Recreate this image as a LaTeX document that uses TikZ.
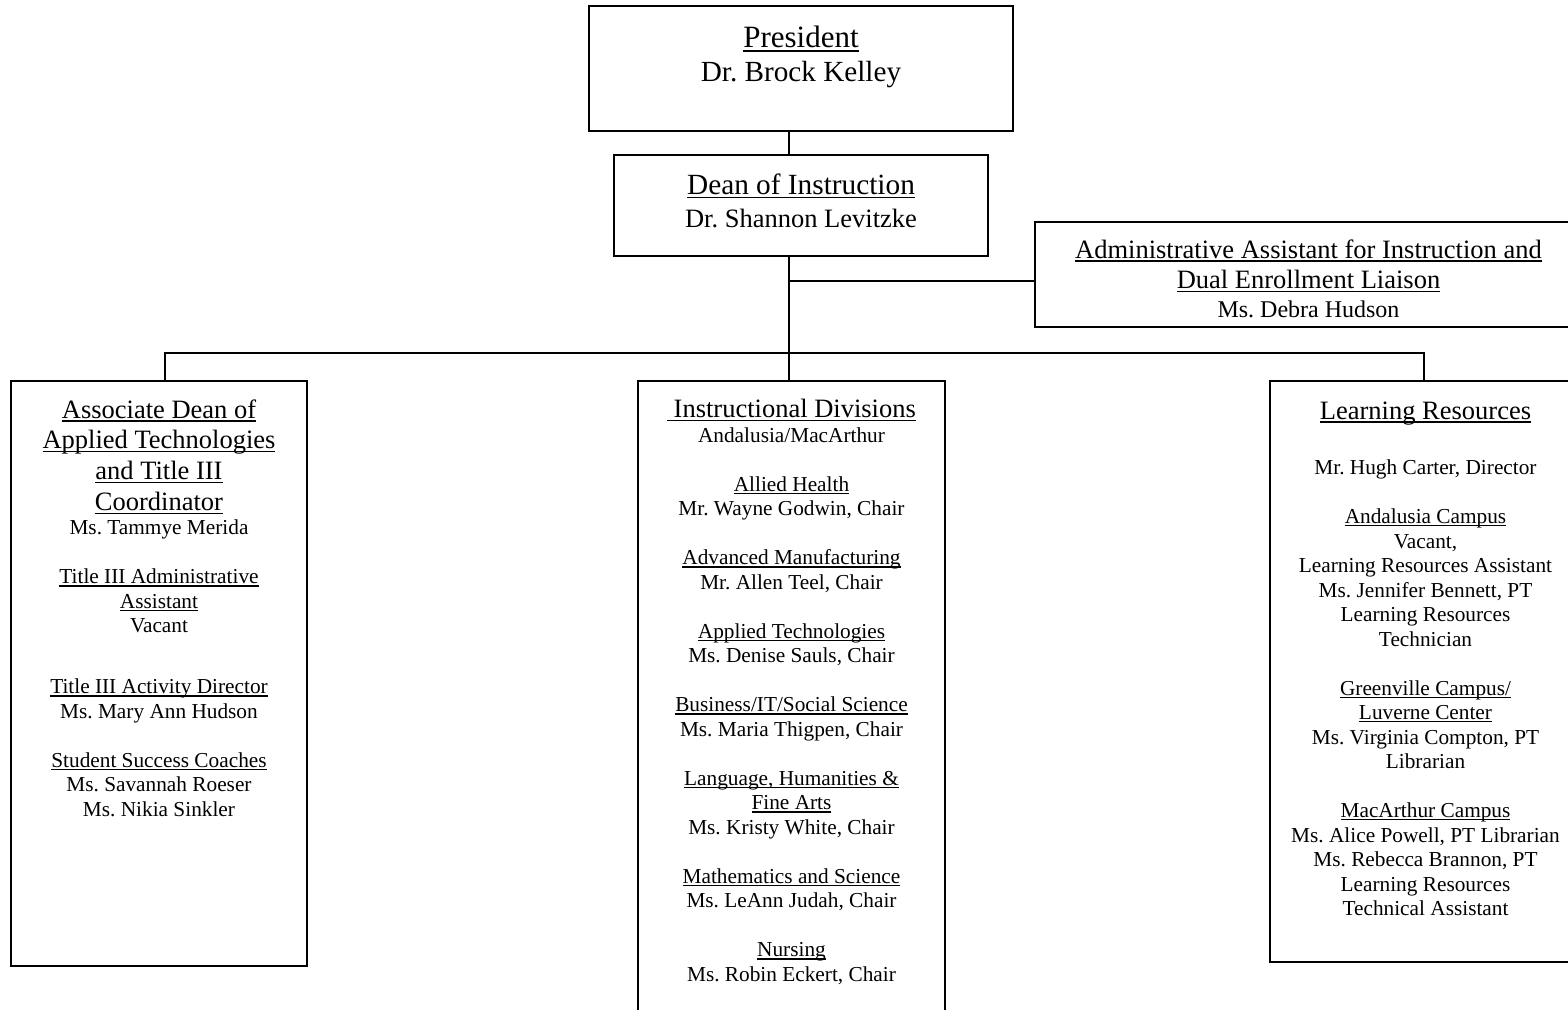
\documentclass[tikz,border=0pt]{standalone}
\usepackage{fontspec}
\setmainfont{Liberation Serif}
\setlength{\parindent}{0pt}
\newcommand{\fsz}[2]{\fontsize{#1}{#2}\selectfont\spaceskip=0.25em\relax\xspaceskip=0.25em\relax}
\newcommand{\tsz}{\fsz{26.5}{30.7}}
\newcommand{\bsz}{\fsz{21.3}{24.5}}
\newcommand{\ocgap}[1]{\par\vskip #1pt}
\newcommand{\myul}[1]{\leavevmode\setbox0\hbox{#1}\rlap{\rule[-0.13em]{\wd0}{1.3pt}}\box0}
\begin{document}
\begin{tikzpicture}[x=1pt,y=-1pt,
  box/.style={draw, line width=1.6pt, inner sep=0pt},
  txt/.style={anchor=north, inner sep=0pt, text width=#1, align=center},
  link/.style={line width=1.6pt}]
\useasboundingbox (0,0) rectangle (1568,1009);
% boxes
\node[box, minimum width=424, minimum height=125] (pres) at (801,68.5) {};
\node[box, minimum width=374, minimum height=101] (dean) at (801,205.5) {};
\node[box, minimum width=547, minimum height=105] (admin) at (1308.5,274.5) {};
\node[box, minimum width=296, minimum height=585] (left) at (159,673.5) {};
\node[box, minimum width=307, minimum height=639] (mid) at (791.5,700.5) {};
\node[box, minimum width=311, minimum height=581] (right) at (1425.5,671.5) {};
% coordinates
\coordinate (trunk) at (789,0);
\coordinate (branch) at (789,281);
\coordinate (busL) at (165,353);
\coordinate (busR) at (1424,353);
% connectors
\draw[link] (pres.south -| trunk) -- (dean.north -| trunk);
\draw[link] (dean.south -| trunk) -- (mid.north -| trunk);
\draw[link] (branch) -- (branch -| admin.west);
\draw[link] (busL |- left.north) -- (busL) -- (busR) -- (busR |- right.north);
% texts
\node[txt=410] (presT) at (801,25.8) {{\fsz{31}{35}\myul{President}\par}\fsz{29.2}{34.4}Dr. Brock Kelley\par};
\node[txt=360] (deanT) at (801,173.5) {{\fsz{29.3}{33}\myul{Dean of Instruction}\par}\fsz{26.5}{33}Dr. Shannon Levitzke\par};
\node[txt=530] (adminT) at (1308.5,239.4) {{\tsz\myul{Administrative Assistant for Instruction and}\\ \myul{Dual Enrollment Liaison}\par}\fsz{24}{28.1}Ms. Debra Hudson\par};
\node[txt=290] (leftT) at (159,399.4) {{\tsz\myul{Associate Dean of}\\ \myul{Applied Technologies}\\ \myul{and Title III}\\ \myul{Coordinator}\par}\bsz Ms. Tammye Merida\ocgap{24.5}
\myul{Title III Administrative}\\ \myul{Assistant}\\ Vacant\ocgap{36.5}
\myul{Title III Activity Director}\\ Ms. Mary Ann Hudson\ocgap{24.5}
\myul{Student Success Coaches}\\ Ms. Savannah Roeser\\ Ms. Nikia Sinkler\par};
\node[txt=300] (midT) at (791.5,399.4) {{\tsz\myul{\ Instructional Divisions}\par}\bsz Andalusia/MacArthur\ocgap{24.5}
\myul{Allied Health}\\ Mr. Wayne Godwin, Chair\ocgap{24.5}
\myul{Advanced Manufacturing}\\ Mr. Allen Teel, Chair\ocgap{24.5}
\myul{Applied Technologies}\\ Ms. Denise Sauls, Chair\ocgap{24.5}
\myul{Business/IT/Social Science}\\ Ms. Maria Thigpen, Chair\ocgap{24.5}
\myul{Language, Humanities \&}\\ \myul{Fine Arts}\\ Ms. Kristy White, Chair\ocgap{24.5}
\myul{Mathematics and Science}\\ Ms. LeAnn Judah, Chair\ocgap{24.5}
\myul{Nursing}\\ Ms. Robin Eckert, Chair\par};
\node[txt=305] (rightT) at (1425.5,401.4) {{\tsz\myul{Learning Resources}\par}\bsz\vskip 31pt Mr. Hugh Carter, Director\ocgap{24.5}
\myul{Andalusia Campus}\\ Vacant,\\ Learning Resources Assistant\\ Ms. Jennifer Bennett, PT\\ Learning Resources\\ Technician\ocgap{24.5}
\myul{Greenville Campus/}\\ \myul{Luverne Center}\\ Ms. Virginia Compton, PT\\ Librarian\ocgap{24.5}
\myul{MacArthur Campus}\\ Ms. Alice Powell, PT Librarian\\ Ms. Rebecca Brannon, PT\\ Learning Resources\\ Technical Assistant\par};
\end{tikzpicture}
\end{document}
